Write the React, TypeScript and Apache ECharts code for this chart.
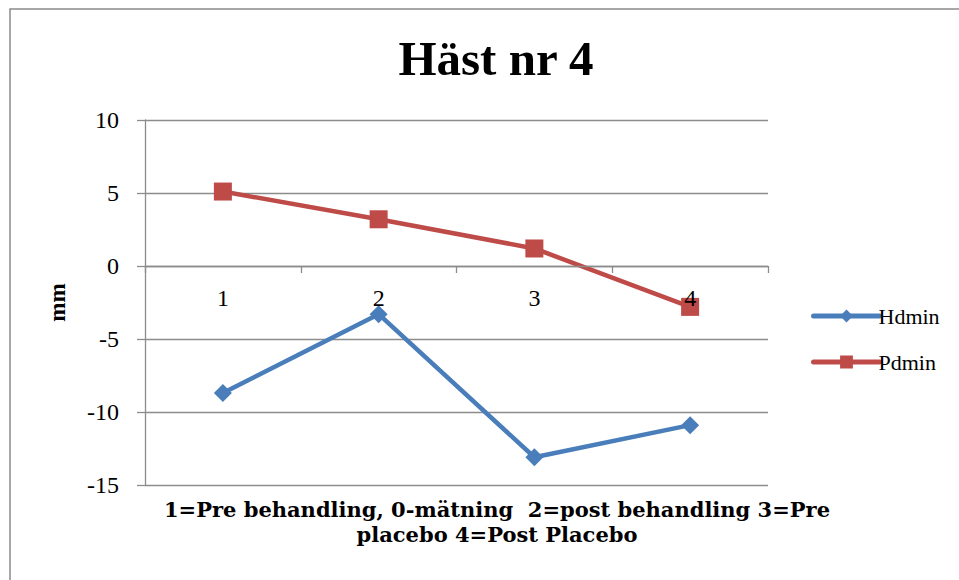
import React, { useEffect, useRef } from "react";
import * as echarts from "echarts";

const categories = ["1", "2", "3", "4"];
const hdmin = [-8.7, -3.3, -13.1, -10.9];
const pdmin = [5.1, 3.2, 1.2, -2.8];
const yMin = -15;
const yMax = 10;
const yStep = 5;
const titleText = "Häst nr 4";
const xAxisTitle = "1=Pre behandling, 0-mätning  2=post behandling 3=Pre\nplacebo 4=Post Placebo";
const yAxisTitle = "mm";

const WIDE_FONT = "'DejaVu Serif', 'Liberation Serif', serif";
const FONT = "'Liberation Serif', 'Times New Roman', serif";
const GRID_COLOR = "#8c8c8c";

export default function App() {
  const ref = useRef<HTMLDivElement>(null);
  useEffect(() => {
    if (!ref.current) return;
    const chart = echarts.init(ref.current, undefined, { renderer: "svg" });
    chart.setOption({
      animation: false,
      backgroundColor: "#ffffff",
      textStyle: { fontFamily: FONT },
      title: [
        {
          text: titleText,
          left: 491,
          top: 29,
          textAlign: "center",
          textStyle: { fontFamily: FONT, fontWeight: "bold", fontSize: 49, color: "#000" },
        },
        {
          text: xAxisTitle,
          left: 492,
          top: 492,
          textAlign: "center",
          textStyle: {
            fontFamily: WIDE_FONT,
            fontWeight: "bold",
            fontSize: 21,
            lineHeight: 25,
            color: "#000",
          },
        },
      ],
      graphic: [
        {
          type: "rect",
          shape: { x: 10, y: 9, width: 1200, height: 1000 },
          style: { fill: "none", stroke: "#8a8a8a", lineWidth: 1.5 },
          silent: true,
          z: -1,
        },
      ],
      legend: {
        orient: "vertical",
        left: 806,
        top: 300,
        itemWidth: 66,
        itemHeight: 16,
        itemGap: 24,
        lineStyle: { width: 5, cap: "round" },
        textStyle: { fontFamily: FONT, fontSize: 22, color: "#000", padding: [0, 0, 0, -6] },
        data: ["Hdmin", "Pdmin"],
      },
      grid: { left: 145, right: 191, top: 120, bottom: 95, containLabel: false },
      xAxis: {
        type: "category",
        data: categories,
        boundaryGap: true,
        axisLine: { onZero: true, lineStyle: { color: GRID_COLOR, width: 1.3 } },
        axisTick: { show: true, inside: false, length: 7, lineStyle: { color: GRID_COLOR, width: 1.3 } },
        axisLabel: { fontFamily: FONT, fontSize: 24, color: "#000", margin: -199 },
        splitLine: { show: false },
        z: 5,
      },
      yAxis: {
        type: "value",
        min: yMin,
        max: yMax,
        interval: yStep,
        name: yAxisTitle,
        nameLocation: "middle",
        nameRotate: 90,
        nameGap: 76,
        nameTextStyle: { fontFamily: FONT, fontWeight: "bold", fontSize: 23, color: "#000" },
        axisLine: { show: true, lineStyle: { color: GRID_COLOR, width: 1.3 } },
        axisTick: { show: true, length: 8, lineStyle: { color: GRID_COLOR, width: 1.3 } },
        axisLabel: { fontFamily: FONT, fontSize: 24, color: "#000", margin: 26 },
        splitLine: { show: true, lineStyle: { color: GRID_COLOR, width: 1.3 } },
      },
      series: [
        {
          name: "Hdmin",
          type: "line",
          data: hdmin,
          symbol: "diamond",
          symbolSize: 18,
          color: "#4a7ebb",
          lineStyle: { width: 4.5, color: "#4a7ebb" },
          itemStyle: { color: "#4a7ebb" },
          z: 3,
        },
        {
          name: "Pdmin",
          type: "line",
          data: pdmin,
          symbol: "rect",
          symbolSize: 18,
          color: "#be4b48",
          lineStyle: { width: 4.5, color: "#be4b48" },
          itemStyle: { color: "#be4b48" },
          z: 2,
        },
      ],
    });
    return () => chart.dispose();
  }, []);
  return (
    <div
      ref={ref}
      style={{ position: "absolute", left: 0, top: 0, width: 959, height: 580 }}
    />
  );
}
